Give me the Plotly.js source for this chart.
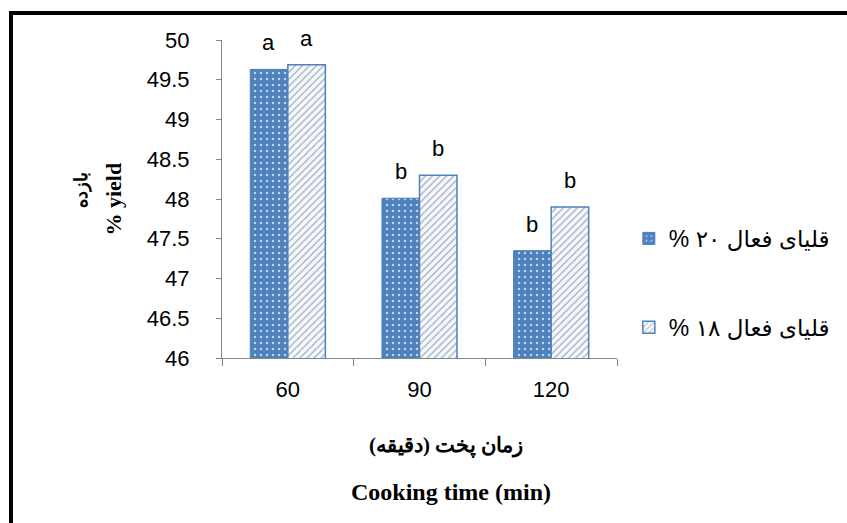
<!DOCTYPE html>
<html>
<head>
<meta charset="utf-8">
<script src="https://cdn.plot.ly/plotly-3.0.1.min.js"></script>
<style>
html,body{margin:0;padding:0;background:#fff;overflow:hidden;}
#wrap{position:relative;width:847px;height:523px;}
#chart{width:847px;height:523px;}
#frame{position:absolute;left:9px;top:11px;width:900px;height:600px;border-top:4px solid #000;border-left:4px solid #000;pointer-events:none;}
</style>
</head>
<body>
<div id="wrap"><div id="chart"></div><div id="frame"></div></div>
<script>
var categories = ['60', '90', '120'];
var series1Name = 'قلیای فعال ۲۰ %\u200F';
var series2Name = 'قلیای فعال ۱۸ %\u200F';
var series1 = [49.63, 48.01, 47.35];
var series2 = [49.69, 48.30, 47.90];
var letters1 = ['a', 'b', 'b'];
var letters2 = ['a', 'b', 'b'];
var yTitleFa = 'بازده';
var yTitleEn = '% yield';
var xTitleFa = 'زمان پخت (دقیقه)\u200F';
var xTitleEn = 'Cooking time (min)';

var sans = 'Liberation Sans, Arial, DejaVu Sans, sans-serif';
var serif = 'Liberation Serif, Times New Roman, DejaVu Serif, serif';

var traces = [
  {
    type: 'bar', x: categories, y: series1, name: series1Name, legendgroup: 'g1',
    marker: {color: '#4F81BD', line: {color: '#4A7EBB', width: 1},
      pattern: {shape: '.', bgcolor: '#4F81BD', fgcolor: '#c3d4ec', size: 6, solidity: 0.12}}
  },
  {
    type: 'bar', x: categories, y: series2, name: series2Name, legendgroup: 'g2',
    marker: {color: '#f6f9fc', line: {color: '#4F81BD', width: 1.5},
      pattern: {shape: '/', bgcolor: '#f6f9fc', fgcolor: '#9aa6b8', size: 5, solidity: 0.22}}
  }
];

var annotations = [];
var off = 18.9;
categories.forEach(function (c, i) {
  annotations.push({x: i, y: series1[i], xref: 'x', yref: 'y', text: letters1[i], showarrow: false,
    xanchor: 'center', yanchor: 'bottom', xshift: -off, yshift: 12, font: {family: sans, size: 22, color: '#000'}});
  annotations.push({x: i, y: series2[i], xref: 'x', yref: 'y', text: letters2[i], showarrow: false,
    xanchor: 'center', yanchor: 'bottom', xshift: off, yshift: 12, font: {family: sans, size: 22, color: '#000'}});
});
annotations.push({x: -0.277, y: 0.5, xref: 'paper', yref: 'paper', text: '<b>' + yTitleEn + '</b>', textangle: -90,
  showarrow: false, xanchor: 'center', yanchor: 'middle', font: {family: serif, size: 22, color: '#000'}});
annotations.push({x: -0.357, y: 0.528, xref: 'paper', yref: 'paper', text: '<b>' + yTitleFa + '</b>', textangle: -90,
  showarrow: false, xanchor: 'center', yanchor: 'middle', font: {family: serif, size: 18, color: '#000'}});
annotations.push({x: 0.5686, y: -0.276, xref: 'paper', yref: 'paper', text: '<b>' + xTitleFa + '</b>',
  showarrow: false, xanchor: 'center', yanchor: 'middle', font: {family: serif, size: 21, color: '#000'}});
annotations.push({x: 0.579, y: -0.42, xref: 'paper', yref: 'paper', text: '<b>' + xTitleEn + '</b>',
  showarrow: false, xanchor: 'center', yanchor: 'middle', font: {family: serif, size: 24, color: '#000'}});

var layout = {
  width: 847, height: 523,
  margin: {l: 222, r: 227.5, t: 40, b: 165},
  paper_bgcolor: '#fff', plot_bgcolor: '#fff',
  barmode: 'group', bargap: 0.43, bargroupgap: 0,
  showlegend: true,
  legend: {x: 1.03, xanchor: 'left', y: 0.236, yanchor: 'middle', traceorder: 'grouped',
    tracegroupgap: 56, font: {family: sans, size: 23, color: '#000'}, bgcolor: 'rgba(0,0,0,0)'},
  xaxis: {type: 'category', range: [-0.5, 2.5], autorange: false, showgrid: false, showline: true, linecolor: '#868686', linewidth: 1,
    ticks: 'outside', tickson: 'boundaries', ticklen: 7, tickcolor: '#868686', tickwidth: 1, tickangle: 0,
    ticklabelstandoff: 12, tickfont: {family: sans, size: 22, color: '#000'}, zeroline: false},
  yaxis: {range: [46, 50], autorange: false, dtick: 0.5, tick0: 46, showgrid: false, showline: true, linecolor: '#868686',
    linewidth: 1, ticks: 'outside', ticklen: 5, tickcolor: '#868686', tickwidth: 1, zeroline: false,
    ticklabelstandoff: 22, tickfont: {family: sans, size: 22, color: '#000'}},
  annotations: annotations
};

Plotly.newPlot('chart', traces, layout, {displayModeBar: false, staticPlot: true});
</script>
</body>
</html>
